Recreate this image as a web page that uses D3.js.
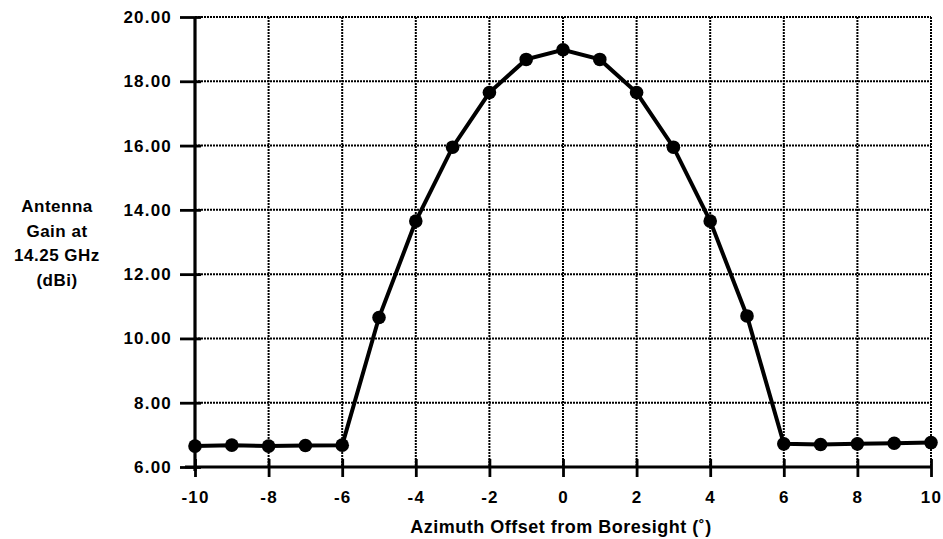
<!DOCTYPE html>
<html>
<head>
<meta charset="utf-8">
<script src="https://cdn.jsdelivr.net/npm/d3@7"></script>
<style>
  body { margin: 0; background: #fff; }
  text { font-family: "Liberation Sans", Arial, sans-serif; font-weight: bold; fill: #000; }
</style>
</head>
<body>
<div id="chart"></div>
<script>
// Azimuth offsets (deg) and measured gain (dBi)
const azimuth = [-10, -9, -8, -7, -6, -5, -4, -3, -2, -1, 0, 1, 2, 3, 4, 5, 6, 7, 8, 9, 10];
const gain = [6.65, 6.68, 6.65, 6.67, 6.68, 10.65, 13.65, 15.95, 17.65, 18.68, 18.98, 18.68, 17.65, 15.95, 13.65, 10.7, 6.72, 6.7, 6.72, 6.74, 6.76];
const xTicks = [-10, -8, -6, -4, -2, 0, 2, 4, 6, 8, 10];
const yTicks = [6, 8, 10, 12, 14, 16, 18, 20];
const yLabelLines = ["Antenna", "Gain at", "14.25 GHz", "(dBi)"];

const width = 943, height = 539;
const margin = { left: 195, right: 12, top: 17, bottom: 72 };

const svg = d3.select("#chart").append("svg")
    .attr("width", width)
    .attr("height", height);

const x = d3.scaleLinear().domain([-10, 10]).range([margin.left, width - margin.right]);
const y = d3.scaleLinear().domain([6, 20]).range([height - margin.bottom, margin.top]);

// dotted grid
svg.append("g").selectAll("line")
  .data(xTicks)
  .join("line")
    .attr("x1", d => x(d)).attr("x2", d => x(d))
    .attr("y1", y(20)).attr("y2", y(6))
    .attr("stroke", "#000").attr("stroke-width", 2)
    .attr("stroke-dasharray", "2,1");

svg.append("g").selectAll("line")
  .data(yTicks)
  .join("line")
    .attr("x1", x(-10)).attr("x2", x(10))
    .attr("y1", d => y(d)).attr("y2", d => y(d))
    .attr("stroke", "#000").attr("stroke-width", 2)
    .attr("stroke-dasharray", "2,1");

// axes
const yAxis = d3.axisLeft(y).tickValues(yTicks).tickFormat(d3.format(".2f")).tickSize(15).tickPadding(8);
const gy = svg.append("g").attr("transform", `translate(${x(-10)},0)`).call(yAxis);
const xAxis = d3.axisBottom(x).tickValues(xTicks).tickFormat(d => String(d)).tickSize(10).tickPadding(14);
const gx = svg.append("g").attr("transform", `translate(0,${y(6)})`).call(xAxis);

gy.select(".domain").attr("stroke-width", 3.2).attr("d", `M0,${y(20)}V${y(6) + 4}`);
gx.select(".domain").attr("stroke-width", 2.8).attr("d", `M${x(-10) - 10},0H${x(10)}`);
gy.selectAll(".tick line").attr("stroke-width", 2.8).attr("x2", 6).attr("x1", -15);
gx.selectAll(".tick line").attr("stroke-width", 2.8).attr("y1", -8).attr("y2", 10);
svg.selectAll(".tick text")
    .style("font-size", "17px")
    .style("font-weight", "bold")
    .style("letter-spacing", "1.2px");
gx.selectAll(".tick text").attr("dy", "0.71em");

// data line and markers
const line = d3.line().x((d, i) => x(azimuth[i])).y(d => y(d));
svg.append("path")
    .datum(gain)
    .attr("d", line)
    .attr("fill", "none")
    .attr("stroke", "#000")
    .attr("stroke-width", 4);

svg.append("g").selectAll("circle")
  .data(gain)
  .join("circle")
    .attr("cx", (d, i) => x(azimuth[i]))
    .attr("cy", d => y(d))
    .attr("r", 6.8)
    .attr("fill", "#000");

// labels
const yl = svg.append("text")
    .attr("text-anchor", "middle")
    .style("font-size", "17px")
    .style("letter-spacing", "0.5px");
yLabelLines.forEach((t, i) => {
  yl.append("tspan").attr("x", 57).attr("y", 212 + i * 24.5).text(t);
});

svg.append("text")
    .attr("x", 561)
    .attr("y", 533)
    .attr("text-anchor", "middle")
    .style("font-size", "18px")
    .style("letter-spacing", "0.5px")
    .text("Azimuth Offset from Boresight (˚)");
</script>
</body>
</html>
